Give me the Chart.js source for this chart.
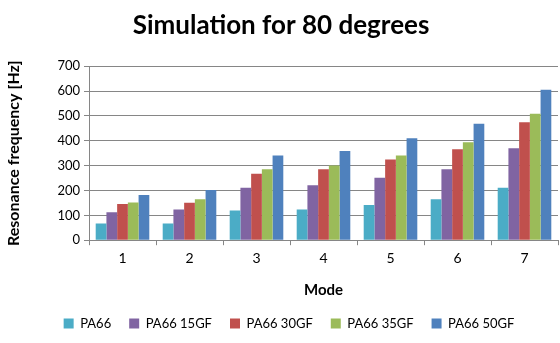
<!DOCTYPE html>
<html>
<head>
<meta charset="utf-8">
<script src="https://cdn.jsdelivr.net/npm/chart.js@4/dist/chart.umd.min.js"></script>
<style>
  html, body { margin: 0; padding: 0; background: #fff; }
  #wrap { width: 560px; height: 343px; }
</style>
</head>
<body>
<div id="wrap"><canvas id="chart" width="560" height="343"></canvas></div>
<script>
const modes = ['1', '2', '3', '4', '5', '6', '7'];
const seriesNames = ['PA66', 'PA66 15GF', 'PA66 30GF', 'PA66 35GF', 'PA66 50GF'];
const pa66 = [67, 67, 119, 124, 142, 165, 211];
const pa66_15 = [112, 124, 211, 221, 251, 285, 370];
const pa66_30 = [146, 151, 267, 285, 325, 366, 475];
const pa66_35 = [152, 165, 285, 301, 341, 394, 509];
const pa66_50 = [182, 202, 341, 359, 410, 468, 605];
const yTicks = [0, 100, 200, 300, 400, 500, 600, 700];
const colors = ['#4BACC6', '#8064A2', '#C0504D', '#9BBB59', '#4F81BD'];

const font = 'Lato, "Liberation Sans", sans-serif';
const allValues = [pa66, pa66_15, pa66_30, pa66_35, pa66_50];

const datasets = allValues.map((vals, i) => ({
  label: seriesNames[i],
  data: vals,
  backgroundColor: colors[i],
  borderWidth: 0,
  categoryPercentage: 0.8,
  barPercentage: 1.0,
}));

// legend sits a little right of centre in the original
const nudgeLegend = {
  id: 'nudgeLegend',
  afterLayout(chart) {
    chart.legend.left += 8;
    chart.legend.right += 8;
  }
};

new Chart(document.getElementById('chart').getContext('2d'), {
  type: 'bar',
  data: { labels: modes, datasets },
  plugins: [nudgeLegend],
  options: {
    responsive: false,
    animation: false,
    layout: { padding: { left: 4, right: 2, top: 4, bottom: 3 } },
    scales: {
      x: {
        grid: { drawOnChartArea: false, drawTicks: true, tickLength: 5, color: '#868686' },
        border: { color: '#868686' },
        ticks: { color: '#000', font: { family: font, size: 14 }, padding: 5 },
        title: { display: true, text: 'Mode', color: '#000', font: { family: font, size: 15, weight: 'bold' }, padding: { top: 9, bottom: 0 } },
      },
      y: {
        min: 0,
        max: 700,
        afterBuildTicks: (axis) => { axis.ticks = yTicks.map(v => ({ value: v })); },
        afterFit: (axis) => { axis.width = 85; },
        grid: { color: '#868686', tickLength: 5 },
        border: { color: '#868686' },
        ticks: { color: '#000', font: { family: font, size: 13 }, padding: 4 },
        title: { display: true, text: 'Resonance frequency [Hz]', color: '#000', font: { family: font, size: 16, weight: 'bold' }, padding: { top: 0, bottom: 2 } },
      }
    },
    plugins: {
      title: {
        display: true,
        text: 'Simulation for 80 degrees',
        color: '#000',
        font: { family: font, size: 26, weight: 'bold' },
        padding: { top: 6, bottom: 25 },
      },
      legend: {
        position: 'bottom',
        labels: { color: '#000', font: { family: font, size: 13 }, boxWidth: 10, boxHeight: 10, padding: 18 },
      },
      tooltip: { enabled: false },
    }
  }
});
</script>
</body>
</html>
